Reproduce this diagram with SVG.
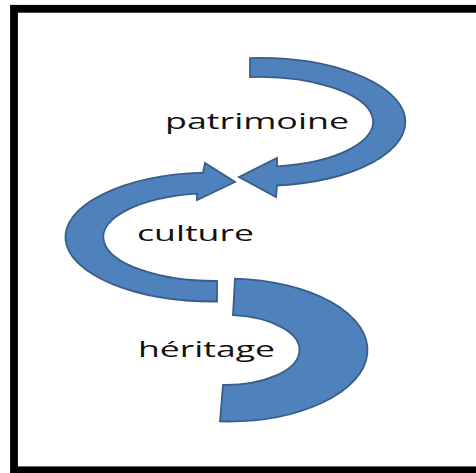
<svg xmlns="http://www.w3.org/2000/svg" width="476" height="473" viewBox="0 0 476 473">
  <style>
    .shape { fill: #4F81BD; stroke: #385D8A; stroke-width: 1.8; stroke-linejoin: miter; }
    .label { font-family: "Open Sans", "Liberation Sans", sans-serif; font-size: 21px; fill: #111111; }
  </style>
  <rect x="0" y="0" width="476" height="473" fill="#ffffff"/>
  <rect id="frame" x="14" y="8.8" width="490" height="461.5" fill="#ffffff" stroke="#000000" stroke-width="7.8"/>
  <g id="patrimoine">
    <path class="shape" d="M 250,58.1 A 146 64 0 0 1 277,185.5 L 276,197 L 239,177 L 277,158 L 277,166.4 A 114 45 0 0 0 250,77.1 Z"/>
    <text class="label" x="165" y="129" textLength="184" lengthAdjust="spacingAndGlyphs">patrimoine</text>
  </g>
  <g id="culture">
    <path class="shape" d="M 217,301.5 A 149 64.5 0 0 1 203,172.7 L 205,163 L 235,182 L 197,200 L 197,193.6 A 112 44 0 0 0 217,281 Z"/>
    <text class="label" x="137" y="241" textLength="117" lengthAdjust="spacingAndGlyphs">culture</text>
  </g>
  <g id="heritage">
    <path class="shape" d="M 235,278.6 A 140 71.5 0 0 1 220,421.4 L 223,384.9 A 74 35 0 0 0 233,315.1 Z"/>
    <text class="label" x="138" y="357" textLength="137" lengthAdjust="spacingAndGlyphs">héritage</text>
  </g>
  <g id="connectors"></g>
</svg>
